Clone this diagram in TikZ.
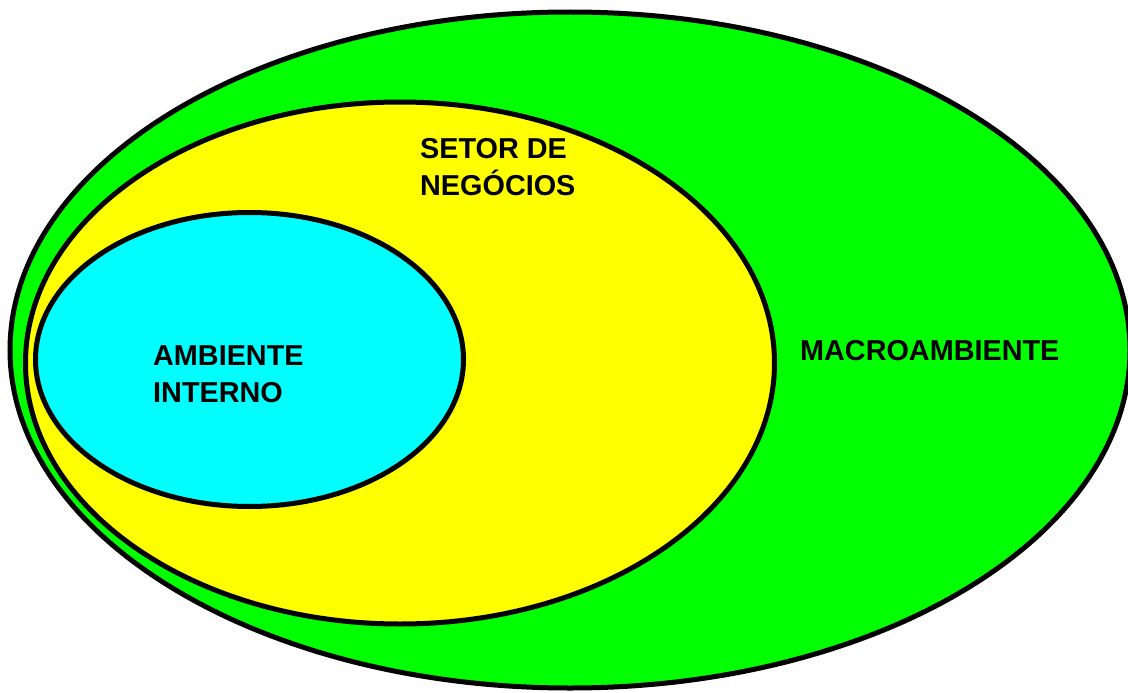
\documentclass[tikz,border=0pt]{standalone}
\usepackage{fontspec}
\setmainfont{Liberation Sans}
\definecolor{macrogreen}{RGB}{0,255,0}
\definecolor{setoryellow}{RGB}{255,255,0}
\definecolor{internocyan}{RGB}{0,255,255}
\tikzset{
	region/.style={draw=black, line width=5pt},
	regiontext/.style={inner sep=0pt, align=left, font=\fontsize{28.8}{37}\selectfont\bfseries}
}
\begin{document}
\begin{tikzpicture}[x=1pt,y=-1pt]
	\useasboundingbox (0,0) rectangle (1128,693);
	\clip (0,0) rectangle (1128,693);

	%ellipses
	\draw[region, fill=macrogreen] (570,350) ellipse (560 and 338);
	\draw[region, fill=setoryellow] (400,363) ellipse (374.5 and 261);
	\draw[region, fill=internocyan] (249.5,359.5) ellipse (214 and 147);

	%labels
	\node[regiontext, anchor=base west] (setor) at (420,195.7) {SETOR DE\\NEGÓCIOS};
	\node[regiontext, anchor=base west] (interno) at (153,402.7) {AMBIENTE\\INTERNO};
	\node[regiontext, anchor=base west] (macro) at (800,360) {MACROAMBIENTE};
\end{tikzpicture}
\end{document}
